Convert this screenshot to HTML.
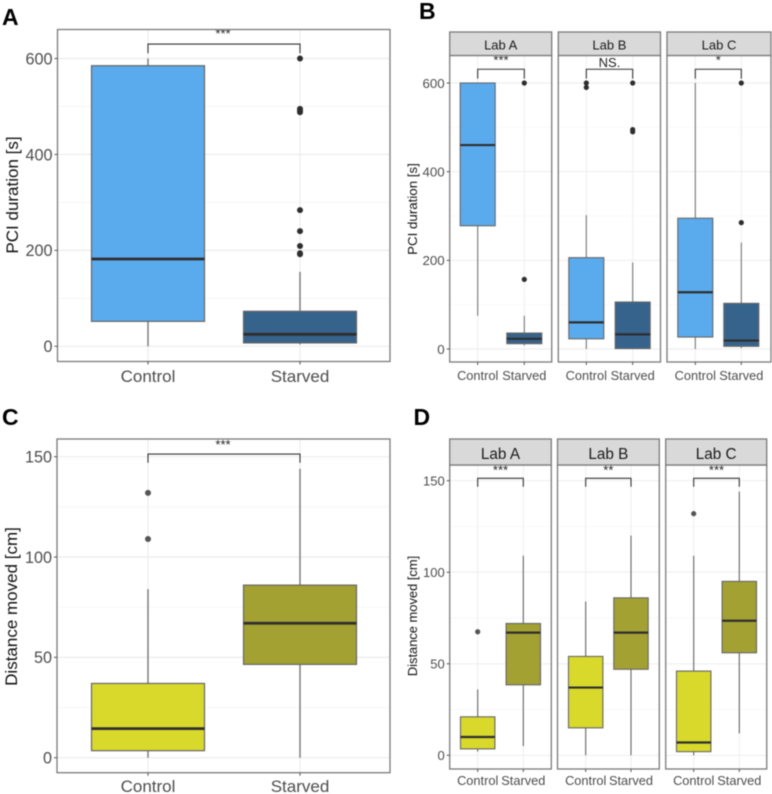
<!DOCTYPE html>
<html><head><meta charset="utf-8"><title>PCI duration and distance moved</title>
<style>
html,body{margin:0;padding:0;background:#fff;width:772px;height:794px;overflow:hidden}
svg{display:block;filter:blur(0.45px)}
text{font-family:"Liberation Sans",sans-serif}
</style></head>
<body>
<svg id="figure" width="772" height="794" viewBox="0 0 772 794" xmlns="http://www.w3.org/2000/svg"></svg>
<script>
// ---- data (whisker low, Q1, median, Q3, whisker high) ----
const categories = ['Control', 'Starved'];
const labs = ['Lab A', 'Lab B', 'Lab C'];
const pciTicks = [0, 200, 400, 600];
const pciMinorTicks = [100, 300, 500];
const distanceTicks = [0, 50, 100, 150];
const distanceMinorTicks = [25, 75, 125];

const panelAStats = [[0, 52, 182, 585, 600], [4, 7, 25, 73, 155]];
const panelAOutliers = [[], [600, 495, 491, 488, 284, 240, 209, 194, 192]];
const panelASignificance = ['***'];

const panelBStats = [
  [[75, 278, 460, 600, 600], [8, 12, 23, 36, 75]],
  [[0, 23, 60, 206, 302], [0, 1, 33, 106, 195]],
  [[0, 27, 128, 295, 600], [2, 6, 19, 103, 240]]
];
const panelBOutliers = [
  [[], [600, 157]],
  [[600, 590], [600, 495, 490]],
  [[], [600, 285]]
];
const panelBSignificance = ['***', 'NS.', '*'];

const panelCStats = [[0, 3.5, 14.5, 37, 84], [0, 46.5, 67, 86, 144]];
const panelCOutliers = [[132, 109], []];
const panelCSignificance = ['***'];

const panelDStats = [
  [[2, 3.5, 10, 21, 36], [5, 38.5, 67, 72, 109]],
  [[0, 15, 37, 54, 84], [0, 47, 67, 86, 120]],
  [[0, 2, 7, 46, 109], [12, 56, 73.5, 95, 144]]
];
const panelDOutliers = [
  [[67.5], []],
  [[], []],
  [[132], []]
];
const panelDSignificance = ['***', '**', '***'];

// ---- drawing ----
const NS = 'http://www.w3.org/2000/svg';
const svg = document.getElementById('figure');

function make(parent, tag, attrs, name, text) {
  const el = document.createElementNS(NS, tag);
  for (const k in attrs) el.setAttribute(k, attrs[k]);
  
  
  if (text !== undefined) el.textContent = text;
  parent.appendChild(el);
  return el;
}
function line(p, x1, y1, x2, y2, stroke, w, name) {
  return make(p, 'line', {x1, y1, x2, y2, stroke, 'stroke-width': w}, name);
}
function linearScale(d0, d1, r0, r1) {
  return v => r0 + (v - d0) * (r1 - r0) / (d1 - d0);
}

function drawFacet(o) {
  const g = make(svg, 'g', {}, o.name);
  const y = linearScale(o.domain[0], o.domain[1], o.range[0], o.range[1]);
  const xs = [o.x0, o.x1];
  make(g, 'rect', {x: o.l, y: o.t, width: o.r - o.l, height: o.b - o.t, fill: '#fff'}, 'panel-background');
  o.minor.forEach(v => line(g, o.l, y(v), o.r, y(v), '#f3f3f3', o.gridW * 0.6, 'minor-gridline'));
  o.ticks.forEach(v => line(g, o.l, y(v), o.r, y(v), '#ececec', o.gridW, 'major-gridline'));
  xs.forEach(x => line(g, x, o.t, x, o.b, '#ececec', o.gridW, 'vertical-gridline'));

  o.stats.forEach((s, i) => {
    const x = xs[i];
    const label = categories[i].toLowerCase();
    line(g, x, y(s[0]), x, y(s[4]), o.whisker, o.whiskerW, 'whisker-' + label);
    make(g, 'rect', {x: x - o.half, y: y(s[3]), width: o.half * 2, height: Math.max(y(s[1]) - y(s[3]), 0.5),
      fill: o.fills[i], stroke: '#666', 'stroke-width': o.boxW}, 'box-' + label);
    line(g, x - o.half, y(s[2]), x + o.half, y(s[2]), '#2e2e2e', o.medW, 'median-' + label);
    o.outliers[i].forEach(v => make(g, 'circle', {cx: x, cy: y(v), r: o.pointR, fill: o.pointFill}, 'outlier-' + label));
  });

  // significance bracket
  const by = y(o.bracket), ty = y(o.tip);
  make(g, 'path', {d: 'M' + o.x0 + ' ' + ty + 'V' + by + 'H' + o.x1 + 'V' + ty, fill: 'none', stroke: '#333', 'stroke-width': 1.1}, 'significance-bracket');
  make(g, 'text', {x: o.sigX === undefined ? (o.x0 + o.x1) / 2 : o.sigX, y: o.sigY, 'text-anchor': 'middle', 'font-size': o.sigSize, fill: '#222'}, 'significance-label', o.sig);

  // frame
  make(g, 'rect', {x: o.l, y: o.t, width: o.r - o.l, height: o.b - o.t, fill: 'none', stroke: '#7a7a7a', 'stroke-width': 1.3}, 'panel-border');

  // strip
  if (o.strip) {
    make(g, 'rect', {x: o.l, y: o.stripT, width: o.r - o.l, height: o.t - o.stripT, fill: '#d9d9d9', stroke: '#7a7a7a', 'stroke-width': 1.3}, 'facet-strip');
    make(g, 'text', {x: (o.l + o.r) / 2, y: o.stripBase, 'text-anchor': 'middle', 'font-size': o.stripSize, fill: '#1a1a1a'}, 'facet-label', o.strip);
  }

  // x axis
  xs.forEach((x, i) => {
    line(g, x, o.b, x, o.b + 3, '#555', 1, 'x-tick');
    make(g, 'text', {x: x, y: o.catBase, 'text-anchor': 'middle', 'font-size': o.catSize, fill: '#4d4d4d'}, 'x-tick-label', categories[i]);
  });

  // y axis
  if (o.showY) {
    o.ticks.forEach(v => {
      line(g, o.l - 3, y(v), o.l, y(v), '#555', 1, 'y-tick');
      make(g, 'text', {x: o.l - 5, y: y(v) + o.tickSize * 0.36, 'text-anchor': 'end', 'font-size': o.tickSize, fill: '#4d4d4d'}, 'y-tick-label', v);
    });
    make(g, 'text', {x: 0, y: 0, transform: 'translate(' + o.titleX + ' ' + o.titleY + ') rotate(-90)', 'text-anchor': 'middle', 'font-size': o.titleSize, fill: '#111'}, 'y-axis-title', o.title);
  }
}

function panelLetter(t, x, y) {
  make(svg, 'text', {x, y, 'font-size': 23, 'font-weight': 'bold', fill: '#000'}, 'panel-letter-' + t.toLowerCase(), t);
}

const blues = ['#5aabee', '#36638c'];
const yellows = ['#d9d92c', '#a3a132'];

// Panel A
drawFacet({name: 'panel-a', l: 57.5, r: 390, t: 29.5, b: 361.5, domain: [0, 600], range: [346.3, 58.5],
  ticks: pciTicks, minor: pciMinorTicks, x0: 148, x1: 300, half: 56.5, stats: panelAStats, outliers: panelAOutliers,
  fills: blues, whisker: '#777', whiskerW: 1.4, boxW: 1.2, medW: 2.8, gridW: 1.2, pointR: 3, pointFill: '#2e2e2e',
  bracket: 630, tip: 611, sig: panelASignificance[0], sigY: 38, sigSize: 13, sigX: 223,
  catBase: 382, catSize: 17, showY: true, tickSize: 16.2, title: 'PCI duration [s]', titleX: 18, titleY: 195, titleSize: 17});

// Panel B
const bLayout = [[449.7, 551.7, 477.7, 524.3], [558.3, 660.5, 586.3, 632.7], [667, 771, 695.3, 741.3]];
bLayout.forEach((b, i) => drawFacet({name: 'panel-b-' + labs[i].toLowerCase().replace(' ', '-'),
  l: b[0], r: b[1], t: 55.5, b: 362, stripT: 32, stripBase: 49.5, strip: labs[i], stripSize: 13,
  domain: [0, 600], range: [349, 83], ticks: pciTicks, minor: pciMinorTicks, x0: b[2], x1: b[3], half: 17.5,
  stats: panelBStats[i], outliers: panelBOutliers[i], fills: blues, whisker: '#777', whiskerW: 1.1, boxW: 1.1, medW: 2.2, gridW: 0.9,
  pointR: 2.6, pointFill: '#2e2e2e', bracket: 631, tip: 610, sig: panelBSignificance[i], sigY: i === 1 ? 67 : 64.5, sigSize: 13,
  catBase: 380, catSize: 12.8, showY: i === 0, tickSize: 13.3, title: 'PCI duration [s]', titleX: 417, titleY: 209, titleSize: 13.3}));

// Panel C
drawFacet({name: 'panel-c', l: 57, r: 390, t: 439, b: 772.7, domain: [0, 150], range: [757.7, 456.7],
  ticks: distanceTicks, minor: distanceMinorTicks, x0: 148, x1: 300, half: 56.5, stats: panelCStats, outliers: panelCOutliers,
  fills: yellows, whisker: '#777', whiskerW: 1.4, boxW: 1.2, medW: 2.8, gridW: 1.2, pointR: 3, pointFill: '#555',
  bracket: 151.3, tip: 147, sig: panelCSignificance[0], sigY: 449, sigSize: 13, sigX: 223,
  catBase: 792, catSize: 17, showY: true, tickSize: 16.2, title: 'Distance moved [cm]', titleX: 17, titleY: 606.5, titleSize: 17});

// Panel D
const dLayout = [[449.7, 551.3, 477.7, 523.3], [557.5, 659.3, 585.7, 631], [665.7, 766.7, 693.7, 739.3]];
dLayout.forEach((b, i) => drawFacet({name: 'panel-d-' + labs[i].toLowerCase().replace(' ', '-'),
  l: b[0], r: b[1], t: 465, b: 769, stripT: 439, stripBase: 459, strip: labs[i], stripSize: 15.3,
  domain: [0, 150], range: [755.3, 480.7], ticks: distanceTicks, minor: distanceMinorTicks, x0: b[2], x1: b[3], half: 17.2,
  stats: panelDStats[i], outliers: panelDOutliers[i], fills: yellows, whisker: '#666', whiskerW: 1.1, boxW: 1.1, medW: 2.2, gridW: 0.9,
  pointR: 2.6, pointFill: '#555', bracket: 151.3, tip: 146.7, sig: panelDSignificance[i], sigY: 474.5, sigSize: 13,
  catBase: 785, catSize: 12.8, showY: i === 0, tickSize: 13, title: 'Distance moved [cm]', titleX: 417, titleY: 616, titleSize: 12.9}));

panelLetter('A', 2, 25);
panelLetter('B', 419, 19);
panelLetter('C', 2, 425);
panelLetter('D', 413.5, 425);
</script>
</body></html>
